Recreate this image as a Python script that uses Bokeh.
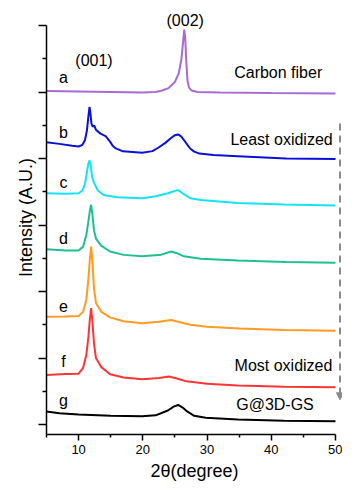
from bokeh.plotting import figure
from bokeh.models import FixedTicker, Arrow, NormalHead
from bokeh.core.properties import value
from bokeh.embed import file_html
from bokeh.resources import INLINE

FONT = "Liberation Sans"

# ---- data (2theta in degrees, intensity in a.u., curves offset) ----
a_x = [5, 10, 15, 20, 22, 23, 24, 25, 25.6, 26.0, 26.25, 26.45, 26.6, 26.75, 26.95, 27.2, 27.6, 28.5, 32, 40, 50]
a_y = [5.015, 5.007, 5.0, 4.993, 5.0, 5.022, 5.058, 5.153, 5.284, 5.488, 5.736, 5.94, 5.809, 5.488, 5.168, 5.066, 5.022, 5.0, 4.993, 4.985, 4.978]

b_x = [5, 7, 9, 10, 10.6, 11.0, 11.3, 11.5, 11.7, 11.85, 12.0, 12.2, 12.45, 12.7, 13.4, 14.2, 14.9, 15.3, 15.7, 16.9, 19.9, 21.5, 22.4, 23.5, 24.4, 25.0, 25.5, 26.0, 26.4, 27.0, 27.4, 28.0, 28.8, 31, 34.8, 42.3, 50]
b_y = [4.245, 4.22, 4.191, 4.181, 4.206, 4.278, 4.424, 4.614, 4.778, 4.672, 4.526, 4.48, 4.495, 4.431, 4.374, 4.337, 4.254, 4.191, 4.157, 4.108, 4.085, 4.111, 4.162, 4.235, 4.308, 4.351, 4.362, 4.329, 4.278, 4.198, 4.147, 4.103, 4.074, 4.052, 4.035, 4.001, 3.994]

c_x = [5, 8, 10, 10.6, 11.0, 11.3, 11.5, 11.7, 11.9, 12.1, 12.45, 13.0, 13.9, 16, 19.9, 22, 23.9, 25.0, 25.5, 26.2, 27.4, 29, 34.8, 42, 50]
c_y = [3.477, 3.469, 3.477, 3.52, 3.622, 3.797, 3.915, 3.972, 3.885, 3.724, 3.622, 3.52, 3.452, 3.418, 3.402, 3.433, 3.477, 3.513, 3.525, 3.477, 3.402, 3.375, 3.331, 3.309, 3.292]

d_x = [5, 8, 10, 10.7, 11.2, 11.5, 11.75, 11.95, 12.15, 12.4, 12.7, 13.5, 14.9, 17, 19.9, 22.9, 24.4, 25.2, 26.4, 29, 34.8, 42.3, 50]
d_y = [2.636, 2.617, 2.617, 2.675, 2.85, 3.039, 3.214, 3.306, 3.156, 2.923, 2.796, 2.69, 2.602, 2.551, 2.529, 2.554, 2.602, 2.58, 2.529, 2.493, 2.466, 2.442, 2.432]

e_x = [5, 8, 10, 10.7, 11.2, 11.5, 11.75, 11.95, 12.15, 12.4, 12.7, 13.5, 14.9, 17, 19.9, 22.5, 24.4, 25.5, 27.4, 30, 35, 42, 50]
e_y = [1.621, 1.625, 1.63, 1.698, 1.873, 2.165, 2.485, 2.675, 2.456, 2.048, 1.829, 1.698, 1.611, 1.552, 1.523, 1.545, 1.571, 1.545, 1.501, 1.472, 1.443, 1.421, 1.411]

f_x = [5, 8, 10, 10.7, 11.2, 11.5, 11.75, 11.95, 12.15, 12.4, 12.7, 13.5, 14.9, 17, 19.9, 22.5, 24.1, 25.3, 26.8, 30, 34.8, 42, 50]
f_y = [0.746, 0.758, 0.765, 0.853, 1.047, 1.29, 1.582, 1.752, 1.552, 1.217, 0.999, 0.867, 0.755, 0.707, 0.682, 0.7, 0.722, 0.692, 0.649, 0.612, 0.586, 0.569, 0.561]

g_x = [5, 7, 10, 15, 19.9, 22, 23.9, 24.8, 25.5, 26.2, 26.9, 28, 29.8, 34.8, 42, 50]
g_y = [0.197, 0.168, 0.149, 0.131, 0.124, 0.138, 0.211, 0.27, 0.294, 0.255, 0.197, 0.131, 0.102, 0.076, 0.058, 0.051]

series_x = [a_x, b_x, c_x, d_x, e_x, f_x, g_x]
series_y = [a_y, b_y, c_y, d_y, e_y, f_y, g_y]
series_colors = ["#a86bd4", "#0a10d8", "#14e4f2", "#1ec08e", "#ff9a22", "#ff3535", "#000000"]

letters = ["a", "b", "c", "d", "e", "f", "g"]
letter_y = [5.211, 4.395, 3.637, 2.796, 1.786, 0.955, 0.357]

notes = ["Carbon fiber", "Least oxidized", "Most oxidized", "G@3D-GS"]
notes_x = [41.08, 41.6, 41.9, 40.58]
notes_y = [5.299, 4.293, 0.892, 0.294]

peaks = ["(001)", "(002)"]
peaks_x = [12.4, 26.6]
peaks_y = [5.474, 6.07]

x_major = [10, 20, 30, 40, 50]
x_minor = [5, 15, 25, 35, 45]
y_major = [0, 1, 2, 3, 4, 5, 6]
y_minor = [0.5, 1.5, 2.5, 3.5, 4.5, 5.5]

# ---- figure (fits 342x485 inside the 8px page margin) ----
p = figure(width=342, height=485, output_backend="svg", toolbar_location=None,
           x_range=(5, 51.09), y_range=(-0.150, 6.376),
           min_border_left=46, min_border_right=0, min_border_top=0, min_border_bottom=51)
p.outline_line_color = None
p.grid.visible = False
p.background_fill_color = "white"
p.border_fill_color = "white"

for xs, ys, c in zip(series_x, series_y, series_colors):
    p.line(xs, ys, line_color=c, line_width=2)

p.text(x=[7.65] * len(letters), y=letter_y, text=letters, text_font=value(FONT),
       text_font_size="16px", text_align="center", text_baseline="middle", text_color="black")
p.text(x=notes_x, y=notes_y, text=notes, text_font=value(FONT),
       text_font_size="16px", text_align="center", text_baseline="middle", text_color="black")
p.text(x=peaks_x, y=peaks_y, text=peaks, text_font=value(FONT),
       text_font_size="16px", text_align="center", text_baseline="middle", text_color="black")

arrow = Arrow(x_start=50.70, y_start=4.526, x_end=50.70, y_end=0.372,
              line_color="#8a8a8a", line_width=2, line_dash="7 5",
              end=NormalHead(size=7, fill_color="#8a8a8a", line_color="#8a8a8a", line_width=1))
p.add_layout(arrow)

# axes
xa = p.xaxis[0]
xa.ticker = FixedTicker(ticks=x_major, minor_ticks=x_minor)
xa.bounds = (5, 50)
xa.axis_label = "2θ(degree)"
xa.axis_label_text_font = FONT
xa.axis_label_text_font_style = "normal"
xa.axis_label_text_font_size = "18px"
xa.axis_label_standoff = 4
xa.major_label_text_font = FONT
xa.major_label_text_font_size = "13px"
xa.major_label_standoff = 4
xa.major_label_text_color = "black"
xa.major_tick_out = 6
xa.major_tick_in = 0
xa.minor_tick_out = 3
xa.minor_tick_in = 0

ya = p.yaxis[0]
ya.ticker = FixedTicker(ticks=y_major, minor_ticks=y_minor)
ya.bounds = (-0.150, 6)
ya.axis_label = "Intensity (A.U.)"
ya.axis_label_text_font = FONT
ya.axis_label_text_font_style = "normal"
ya.axis_label_text_font_size = "18px"
ya.axis_label_standoff = 3
ya.major_label_text_font_size = "0px"
ya.major_label_text_color = None
ya.major_label_standoff = 0
ya.major_tick_out = 8
ya.major_tick_in = 0
ya.minor_tick_out = 4
ya.minor_tick_in = 0

for ax in (xa, ya):
    ax.axis_line_width = 1.5
    ax.axis_line_color = "black"
    ax.major_tick_line_width = 1.5
    ax.minor_tick_line_width = 1.5
    ax.major_tick_line_color = "black"
    ax.minor_tick_line_color = "black"
    ax.axis_label_text_color = "black"

open("out.html", "w").write(file_html(p, INLINE))
